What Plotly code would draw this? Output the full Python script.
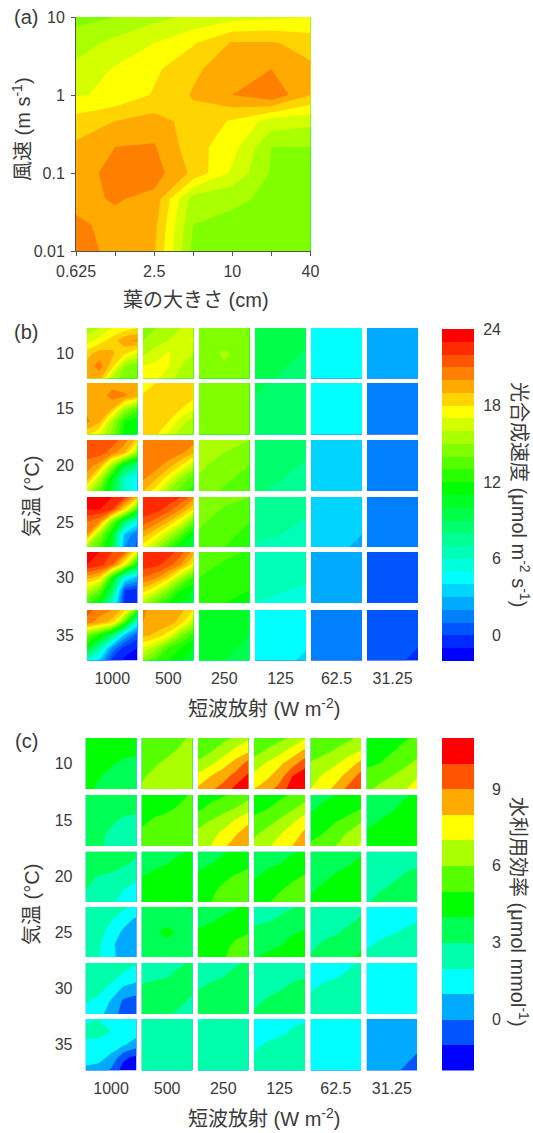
import plotly.graph_objects as go

W, H = 533, 1133
FONT = "Liberation Sans, Noto Sans CJK JP, sans-serif"
INK = "#3a3a3a"

# ---------- panel (a) ----------
a_leaf = [0.625, 1.25, 2.5, 5, 10, 20, 40]
a_leaf_labelled = [0.625, 2.5, 10, 40]
a_leaf_minor = [1.25, 5, 20]
a_wind = [0.01, 0.0215, 0.0464, 0.1, 0.215, 0.464, 1, 2.15, 4.64, 10]
a_w001 = [20.6, 19.6, 19.1, 14.7, 14.4, 14.3, 14.3]
a_w002 = [20.2, 19.7, 19.3, 15.0, 14.7, 14.5, 14.4]
a_w005 = [19.7, 20.1, 19.7, 15.5, 15.2, 14.8, 14.4]
a_w01 = [19.3, 20.5, 20.47, 18.75, 16.8, 14.9, 14.4]
a_w02 = [19.2, 20.0, 20.1, 18.4, 17.4, 15.0, 15.0]
a_w05 = [18.4, 19.0, 19.4, 18.6, 17.9, 16.6, 16.3]
a_w1 = [16.9, 17.2, 18.1, 19.1, 20.0, 20.8, 19.0]
a_w2 = [16.3, 17.1, 17.8, 18.8, 19.6, 20.0, 19.2]
a_w4 = [15.5, 16.3, 17.0, 17.9, 19.1, 19.1, 18.6]
a_w10 = [14.7, 15.0, 15.7, 16.2, 16.6, 16.8, 17.0]

# ---------- shared labels ----------
temps = ["10", "15", "20", "25", "30", "35"]
shortwave = ["1000", "500", "250", "125", "62.5", "31.25"]
bar_b_bands = [v + 0.5 for v in range(-2, 24)]
bar_c_bands = [v + 0.5 for v in range(-2, 11)]
bar_b_ticks = [0, 6, 12, 18, 24]
bar_c_ticks = [0, 3, 6, 9]

# ---------- panel (b): photosynthesis rows (T) x columns (shortwave), rows listed top to bottom ----------
b10_1 = [[15.5,16,17,17.5,18],[16.5,17.5,18.5,19.8,20.2],[18.5,19.5,19.2,18.2,17],[19.5,20.4,18.5,15,14.5],[19.3,19.5,15.5,14.5,14.3]]
b10_2 = [[14.5,15,15.5,16,16.5],[15,15.5,16,16.5,17.2],[15.8,16.5,17.1,16.5,16],[17,17.2,17.1,16,15.5],[17.2,17.2,16.5,15.5,15]]
b10_3 = [[14.3,14.3,14.6],[14.6,15.1,14.7],[14.6,14.8,14.4]]
b10_4 = [[9.7,9.7,9.3],[9.7,9.3,8.9],[9.3,8.9,8.6]]
b10_5 = [[4.5,4.5],[4.5,4.5]]
b10_6 = [[2.5,2.5],[2.5,2.5]]
b15_1 = [[19,19.4,19.6,19.4,19],[19.2,19.5,20.4,20.2,19.3],[19.8,19.6,19,15.5,13.5],[20.2,19.2,15.5,12,11.2],[18.2,17,14.5,11.5,11]]
b15_2 = [[17.5,18,18.3,18.3,18.3],[18.1,18.4,18.6,18.5,18.3],[18.4,18.6,18.6,18,17.2],[18.6,18.6,18,16.5,15.5],[18.6,18.2,16.8,15.5,15]]
b15_3 = [[14.5,14.5],[14.5,14.4]]
b15_4 = [[9.3,8.7,8.6],[8.7,8.5,8.4],[8.6,8.4,8.3]]
b15_5 = [[4.5,4.5],[4.5,4.5]]
b15_6 = [[1.5,1.5],[1.5,1.5]]
b20_1 = [[21.5,21.5,21.5,20.5,18.5],[21.5,21.5,20.5,19,15],[20.5,19.5,15,10,8],[19.5,16,11,6,4.5],[16.5,13.5,10,6,4.5]]
b20_2 = [[20.8,20.8,20.8,20.8,20.5],[20.8,20.8,20.8,20.2,19.2],[20.5,20.5,19.5,18,16],[20.2,19.2,17.5,15,13.5],[19,17.5,15,13.5,12.5]]
b20_3 = [[15.2,15.2,15.0],[15.1,14.8,14],[14.8,13.8,13]]
b20_4 = [[8.6,8.6,8.3],[8.6,8.3,7.9],[8.1,7.8,7.6]]
b20_5 = [[3.5,3.5],[3.5,3.5]]
b20_6 = [[1.5,1.5],[1.5,1.5]]
b25_1 = [[23.5,23.5,23,22,19],[23,23,22,18,13],[21,20,14,8.5,5],[20,15,11,3,1],[15,13,10,2,0.8]]
b25_2 = [[23,23,22.8,22,20.5],[22.8,22.5,21.5,20,18],[21.5,20.5,19,17,14],[19.5,18,16,13.5,11],[17.5,15.5,13,11,10.5]]
b25_3 = [[14.5,14.3,14],[14.2,13.5,13],[13.5,13,12.5]]
b25_4 = [[7.6,7.6,7.4],[7.6,7.3,6.9],[6.9,6.7,6.6]]
b25_5 = [[3.5,3.5,3.5],[3.5,3.5,3.3],[3.5,3.3,2.7]]
b25_6 = [[1.5,1.5],[1.5,1.5]]
b30_1 = [[23.5,23,22,21,17],[23,22.5,21,17,11],[19.5,18.5,12,5,3],[16,14,9,0,-0.5],[13,11,6,-0.5,-0.8]]
b30_2 = [[22.5,22.5,22.5,21.5,19.5],[22.5,22.3,21.5,20,17.5],[21,20.3,18.5,15.5,13],[18.5,17,14.5,12,11],[15.5,13.5,12,11,10.5]]
b30_3 = [[13.5,13.2,12.9],[13,12.6,12.2],[12.4,12,11.8]]
b30_4 = [[6.6,6.6,6.4],[6.5,6.3,6.1],[6,5.8,5.7]]
b30_5 = [[2.5,2.5],[2.5,2.5]]
b30_6 = [[0.5,0.5],[0.5,0.5]]
b35_1 = [[21.5,20.5,20,18.5,13],[20.5,19.5,18.5,13,5],[14,12,8.5,3,0.5],[11,7,2,-0.5,-1],[6,3.5,-0.5,-1.2,-1.5]]
b35_2 = [[20.2,19.5,19.5,19.3,18],[20,19.6,19.5,18.5,16],[19.2,18.8,17.5,14.5,12.5],[17,15.5,13,12,11],[14.5,13,12,11,10.5]]
b35_3 = [[10.5,10.5,10.3],[10.5,10.3,10],[10.3,10,9]]
b35_4 = [[4.5,4.5,4.5],[4.5,4.5,4.3],[4.5,4.3,3.8]]
b35_5 = [[1.5,1.5],[1.5,1.5]]
b35_6 = [[0.5,0.5,0.5],[0.5,0.5,0.3],[0.5,0.3,-0.3]]

# ---------- panel (c): water use efficiency ----------
c10_1 = [[4.5,4.5,4.5,4.5,4.5],[4.5,4.5,4.5,4.3,4.2],[4.5,4.4,4.1,3.8,3.7],[4.4,4.1,3.7,3.5,3.5],[4.4,3.8,3.5,3.5,3.5]]
c10_2 = [[5.5,5.6,5.7,5.8,6.2],[5.6,5.7,5.8,6.1,6.4],[5.7,5.9,6.2,6.4,6.5],[5.9,6.2,6.4,6.5,6.5],[6.1,6.4,6.5,6.5,6.5]]
c10_3 = [[5.2,5.4,5.7,6.2,6.8],[5.5,5.9,6.5,7.3,7.8],[6.2,6.8,7.6,8.4,9.4],[7.3,8.0,8.6,9.4,10.2],[8.2,8.8,9.4,10.3,10.8]]
c10_4 = [[5.3,5.5,5.7,6.2,6.9],[5.6,6.1,6.6,7.4,8.2],[6.4,7.1,7.8,8.6,9.6],[7.3,7.8,8.5,10,10.7],[8.0,8.5,9.4,10.5,10.9]]
c10_5 = [[5.2,5.4,5.6,5.8,6.2],[5.5,5.7,6.1,6.6,7.0],[6.1,6.5,6.9,7.5,8.3],[6.7,7.1,7.6,8.4,9.4],[7.0,7.5,8.3,9.3,9.8]]
c10_6 = [[4.6,4.7,4.8,4.9,5.1],[4.7,4.8,4.9,5.3,5.7],[4.9,5.0,5.5,5.8,6.2],[5.2,5.7,6.0,6.4,6.9],[5.8,6.2,6.3,6.9,7.5]]
c15_1 = [[3.6,3.6,3.6,3.6,3.6],[3.6,3.6,3.6,3.4,3.3],[3.6,3.5,3.2,2.8,2.7],[3.5,3.3,2.8,2.5,2.5],[3.4,3.2,2.7,2.5,2.5]]
c15_2 = [[4.5,4.6,4.7,4.8,5.1],[4.6,4.7,4.8,5.1,5.4],[4.8,5.1,5.3,5.4,5.5],[5.2,5.4,5.5,5.5,5.5],[5.5,5.5,5.5,5.5,5.5]]
c15_3 = [[4.5,4.7,4.9,5.2,5.6],[4.8,5.2,5.6,6,6.6],[5.5,6,6.5,7.1,7.8],[6.3,6.7,7.2,7.9,8.5],[6.6,7,7.8,8.5,8.8]]
c15_4 = [[4.5,4.6,4.8,5.1,5.5],[4.7,4.9,5.3,5.8,6.4],[5.2,5.6,6.1,6.8,7.5],[5.8,6.3,6.9,7.5,8.2],[6.3,6.8,7.4,8,8.6]]
c15_5 = [[3.7,3.9,4,4.2,4.4],[3.9,4.1,4.4,4.6,4.9],[4.2,4.5,4.9,5.3,5.9],[4.8,5,5.6,6.1,6.5],[5.1,5.5,6,6.5,7.2]]
c15_6 = [[3.6,3.7,3.8,3.9,4.1],[3.7,3.8,3.9,4.2,4.4],[3.8,4,4.2,4.4,4.5],[4.1,4.3,4.5,4.5,4.5],[4.4,4.5,4.5,4.5,4.5]]
c20_1 = [[3.6,3.6,3.6,3.5,3.2],[3.6,3.6,3.4,3.1,2.8],[3.4,2.9,2.8,2.5,2.2],[3.0,2.8,2.5,2,1.7],[2.7,2.6,2.2,1.6,1.5]]
c20_2 = [[3.6,3.7,3.8,3.9,4.1],[3.7,3.8,4,4.3,4.5],[4,4.3,4.5,4.5,4.5],[4.5,4.5,4.5,4.5,4.5],[4.5,4.5,4.5,4.5,4.5]]
c20_3 = [[3.6,3.8,3.9,4.1,4.4],[3.8,4,4.3,4.6,4.8],[4.2,4.5,4.8,5.1,5.4],[4.5,4.8,5.2,5.5,5.6],[4.6,5.0,5.5,5.6,5.7]]
c20_4 = [[3.6,3.7,3.8,3.9,4.1],[3.7,3.8,4,4.4,4.6],[3.9,4.3,4.6,4.8,5.1],[4.4,4.7,4.9,5.3,5.5],[4.7,4.9,5.3,5.5,5.6]]
c20_5 = [[3.5,3.6,3.7,3.8,3.9],[3.6,3.7,3.8,3.95,4.2],[3.7,3.8,4.1,4.3,4.5],[3.9,4.2,4.5,4.5,4.5],[4.1,4.4,4.5,4.5,4.5]]
c20_6 = [[2.5,2.5,2.6,2.7,2.8],[2.5,2.6,2.7,2.8,2.9],[2.6,2.7,2.8,3.1,3.3],[2.7,2.9,3.2,3.4,3.5],[2.9,3.3,3.5,3.5,3.5]]
c25_1 = [[2.5,2.5,2.5,2.2,1.8],[2.5,2.5,2.1,1.4,0.8],[2.5,2.4,1.6,0.8,0.5],[2.5,2.2,1.2,0.5,0.5],[2.5,2.1,1.3,0.5,0.5]]
c25_2 = [[3.5,3.5,3.5,3.7,4.2],[3.5,3.6,3.7,3.6,3.6],[3.5,3.9,4.2,3.9,3.5],[3.5,3.7,3.8,3.6,3.5],[3.5,3.5,3.5,3.5,3.5]]
c25_3 = [[3.5,3.6,3.8,3.95,4.2],[3.7,3.9,4.1,4.4,4.6],[4.1,4.3,4.5,4.7,4.9],[4.4,4.5,4.7,5.2,5.5],[4.5,4.6,4.9,5.4,5.6]]
c25_4 = [[2.5,2.6,2.8,2.95,3.1],[2.8,2.9,3.1,3.3,3.5],[3.2,3.3,3.5,3.9,4.1],[3.5,3.7,3.9,4.3,4.5],[3.9,4.2,4.4,4.5,4.5]]
c25_5 = [[2.5,2.5,2.6,2.7,2.8],[2.6,2.6,2.7,2.8,3.1],[2.7,2.8,2.9,3.2,3.4],[2.8,3.1,3.3,3.5,3.7],[3.1,3.4,3.5,3.7,4.3]]
c25_6 = [[1.5,1.5,1.6,1.7,1.8],[1.6,1.6,1.7,1.8,1.9],[1.7,1.8,1.9,2.1,2.4],[1.9,2.1,2.4,2.5,2.5],[2.2,2.5,2.5,2.5,2.5]]
c30_1 = [[2.5,2.5,2.5,2.4,2.1],[2.5,2.5,2.4,1.8,1.5],[2.5,2.4,1.7,0.8,0.5],[2.1,1.7,0.9,-0.2,-0.4],[1.6,1.3,0.6,-0.5,-0.6]]
c30_2 = [[2.5,2.6,2.7,2.9,3.1],[2.7,2.8,2.95,3.2,3.3],[3.2,3.3,3.4,3.4,3.2],[3.3,3.4,3.4,3.2,2.8],[3.4,3.4,3.1,2.8,2.6]]
c30_3 = [[2.5,2.6,2.8,2.9,3.1],[2.6,2.8,2.95,3.3,3.4],[2.95,3.2,3.4,3.5,3.5],[3.3,3.5,3.5,3.5,3.5],[3.5,3.5,3.5,3.5,3.5]]
c30_4 = [[2.5,2.5,2.5,2.5,2.5],[2.5,2.5,2.6,2.8,2.9],[2.6,2.7,2.9,3.2,3.4],[2.8,3.1,3.4,3.5,3.5],[3.1,3.4,3.5,3.5,3.5]]
c30_5 = [[1.5,1.6,1.7,1.8,2.1],[1.6,1.8,1.9,2.2,2.4],[1.9,2.2,2.4,2.5,2.5],[2.3,2.5,2.5,2.5,2.5],[2.5,2.5,2.5,2.5,2.5]]
c30_6 = [[1.5,1.5],[1.5,1.5]]
c35_1 = [[1.7,2.0,1.7,1.6,1.4],[2.5,2.5,2.0,1.5,1.4],[1.6,1.5,1.4,1.1,0.5],[1.5,1.3,0.8,-0.8,-1.3],[0.7,0.6,-0.2,-1.5,-1.6]]
c35_2 = [[2.5,2.5],[2.5,2.5]]
c35_3 = [[1.9,2.1,2.4,2.5,2.5],[2.3,2.5,2.5,2.5,2.5],[2.5,2.5,2.5,2.5,2.5],[2.5,2.5,2.5,2.6,3.05],[2.5,2.5,2.5,2.5,2.5]]
c35_4 = [[1.5,1.6,1.7,1.8,1.9],[1.6,1.7,1.8,2.1,2.3],[1.8,2.1,2.3,2.5,2.5],[2.2,2.4,2.5,2.5,2.5],[2.5,2.5,2.5,2.5,2.5]]
c35_5 = [[1.5,1.5],[1.5,1.5]]
c35_6 = [[0.5,0.5,0.5],[0.5,0.5,0.3],[0.5,0.3,-0.6]]


def lerp(c0, c1, t):
    return tuple(round(p + (q - p) * t) for p, q in zip(c0, c1))


def band_colors(stops):
    """stops: list of (band_index, rgb); returns a colorscale with one colour per band."""
    out = []
    for (i0, c0), (i1, c1) in zip(stops, stops[1:]):
        for i in range(i0, i1):
            out.append(lerp(c0, c1, (i - i0) / (i1 - i0)))
    out.append(stops[-1][1])
    n = len(out) - 1
    return [[i / n, "rgb(%d,%d,%d)" % c] for i, c in enumerate(out)]


BLUE, CYAN, GREEN, YEL, RED = (0, 0, 255), (0, 255, 255), (0, 255, 0), (255, 255, 0), (255, 0, 0)
scale_b = band_colors([(0, BLUE), (6, CYAN), (13, GREEN), (19, YEL), (25, RED)])
scale_c = band_colors([(0, BLUE), (3, CYAN), (6, GREEN), (9, YEL), (12, RED)])
cont_b = dict(start=-1, end=23, size=1, coloring="fill", showlines=False)
cont_c = dict(start=-1, end=10, size=1, coloring="fill", showlines=False)
FLAT = dict(width=0, smoothing=0)


def dom(lo, hi, total):
    return [lo / total, hi / total]


def ydom(top, bottom):
    return [1 - bottom / H, 1 - top / H]


fig = go.Figure()
layout = {}

# panel (a)
a_rows = [a_w001, a_w002, a_w005, a_w01, a_w02, a_w05, a_w1, a_w2, a_w4, a_w10]
fig.add_trace(go.Contour(x=a_leaf, y=a_wind, z=a_rows, colorscale=scale_b, contours=cont_b,
                         line=FLAT, showscale=False, xaxis="x", yaxis="y"))
layout["xaxis"] = dict(type="log", domain=dom(76, 310.5, W), range=[-0.20412, 1.60206],
                       tickvals=a_leaf_labelled, ticktext=[str(v) for v in a_leaf_labelled],
                       minor=dict(tickvals=a_leaf_minor, ticks="outside", ticklen=4, tickcolor="#555"),
                       ticks="outside", ticklen=4, tickcolor="#555", showline=True, linecolor="#555",
                       showgrid=False, zeroline=False, tickfont=dict(size=16, color=INK), anchor="y",
                       ticklabelstandoff=2)
layout["yaxis"] = dict(type="log", domain=ydom(17, 251), range=[-2, 1], tickvals=[0.01, 0.1, 1, 10],
                       ticktext=["0.01", "0.1", "1", "10"], ticks="outside", ticklen=4, tickcolor="#555",
                       showline=True, linecolor="#555", showgrid=False, zeroline=False,
                       tickfont=dict(size=16, color=INK), anchor="x", ticklabelstandoff=3)

col_b = [(87, 137.5), (143, 193.5), (199, 249.5), (255, 306), (311, 362), (367, 418)]
row_b = [(328, 378.5), (383, 434.5), (440, 491), (497, 547), (552, 603), (610, 660.5)]
col_c = [(85.7, 136.5), (141.7, 192.5), (198, 248.5), (254, 305), (310.7, 361), (366.7, 417)]
row_c = [(738, 789), (795, 846), (851.7, 902), (907, 957), (963, 1014), (1019, 1070.5)]
ax = 2


def small_multiples(prefix, cols, rows, scale, cont):
    global ax
    for r, t in enumerate(temps):
        for c in range(6):
            z = globals()[f"{prefix}{t}_{c + 1}"]
            ny, nx = len(z), len(z[0])
            xs = [i / (nx - 1) for i in range(nx)]
            ys = [i / (ny - 1) for i in range(ny)]
            fig.add_trace(go.Contour(x=xs, y=ys, z=z[::-1], colorscale=scale, contours=cont, line=FLAT,
                                     xaxis=f"x{ax}", yaxis=f"y{ax}", showscale=False))
            base = dict(showgrid=False, zeroline=False, showline=False, range=[0, 1],
                        tickfont=dict(size=16, color=INK), tickcolor="rgba(0,0,0,0)")
            xa = dict(base, domain=dom(*cols[c], W), anchor=f"y{ax}", tickvals=[0.5], ticktext=[shortwave[c]],
                      showticklabels=(r == 5), ticks="outside" if r == 5 else "", ticklen=3)
            ya = dict(base, domain=ydom(*rows[r]), anchor=f"x{ax}", tickvals=[0.5], ticktext=[t],
                      showticklabels=(c == 0), ticks="outside" if c == 0 else "", ticklen=9)
            layout[f"xaxis{ax}"] = xa
            layout[f"yaxis{ax}"] = ya
            ax += 1


def colour_bar(bands, ticks, scale, top, bottom):
    """A one-column heatmap on its own axes; single-digit labels get two no-break spaces (one digit wide)."""
    global ax
    fig.add_trace(go.Heatmap(x=[0], y=bands, z=[[v] for v in bands], zmin=bands[0], zmax=bands[-1],
                             colorscale=scale, showscale=False, xaxis=f"x{ax}", yaxis=f"y{ax}"))
    layout[f"xaxis{ax}"] = dict(domain=dom(442, 474, W), anchor=f"y{ax}", range=[-0.5, 0.5], showgrid=False,
                                zeroline=False, showticklabels=False, ticks="")
    layout[f"yaxis{ax}"] = dict(domain=ydom(top, bottom), anchor=f"x{ax}", side="right", showgrid=False,
                                zeroline=False, range=[bands[0] - 0.5, bands[-1] + 0.5], tickvals=ticks,
                                ticktext=[str(v).rjust(2).replace(" ", "\u00a0\u00a0") for v in ticks],
                                ticks="outside", ticklen=5, tickcolor="rgba(0,0,0,0)",
                                tickfont=dict(size=16, color=INK))
    ax += 1


small_multiples("b", col_b, row_b, scale_b, cont_b)
small_multiples("c", col_c, row_c, scale_c, cont_c)
colour_bar(bar_b_bands, bar_b_ticks, scale_b, 329, 661)
colour_bar(bar_c_bands, bar_c_ticks, scale_c, 738, 1070.5)


def note(text, x, y, size=20, angle=0):
    return dict(text=text, x=x / W, y=1 - y / H, xref="paper", yref="paper", showarrow=False,
                textangle=angle, xanchor="center", yanchor="middle", font=dict(size=size, color=INK))


notes = [
    note("(a)", 26, 17), note("(b)", 26, 332), note("(c)", 26, 741),
    note("風速 (m s<sup>-1</sup>)", 22, 129, 20, -90),
    note("葉の大きさ (cm)", 196, 300),
    note("気温 (°C)", 32, 497, 20, -90), note("気温 (°C)", 32, 905, 20, -90),
    note("短波放射 (W m<sup>-2</sup>)", 264, 707), note("短波放射 (W m<sup>-2</sup>)", 264, 1117),
    note("光合成速度 (μmol m<sup>-2</sup> s<sup>-1</sup>)", 520, 494, 20, 90),
    note("水利用効率 (μmol mmol<sup>-1</sup>)", 520, 912, 20, 90),
]

fig.update_layout(width=W, height=H, margin=dict(l=0, r=0, t=0, b=0, autoexpand=False), paper_bgcolor="white",
                  plot_bgcolor="white", font=dict(family=FONT, color=INK), showlegend=False,
                  annotations=notes, **layout)
fig.write_html("out.html", config={"displayModeBar": False}, post_script="document.body.style.margin='0';")
